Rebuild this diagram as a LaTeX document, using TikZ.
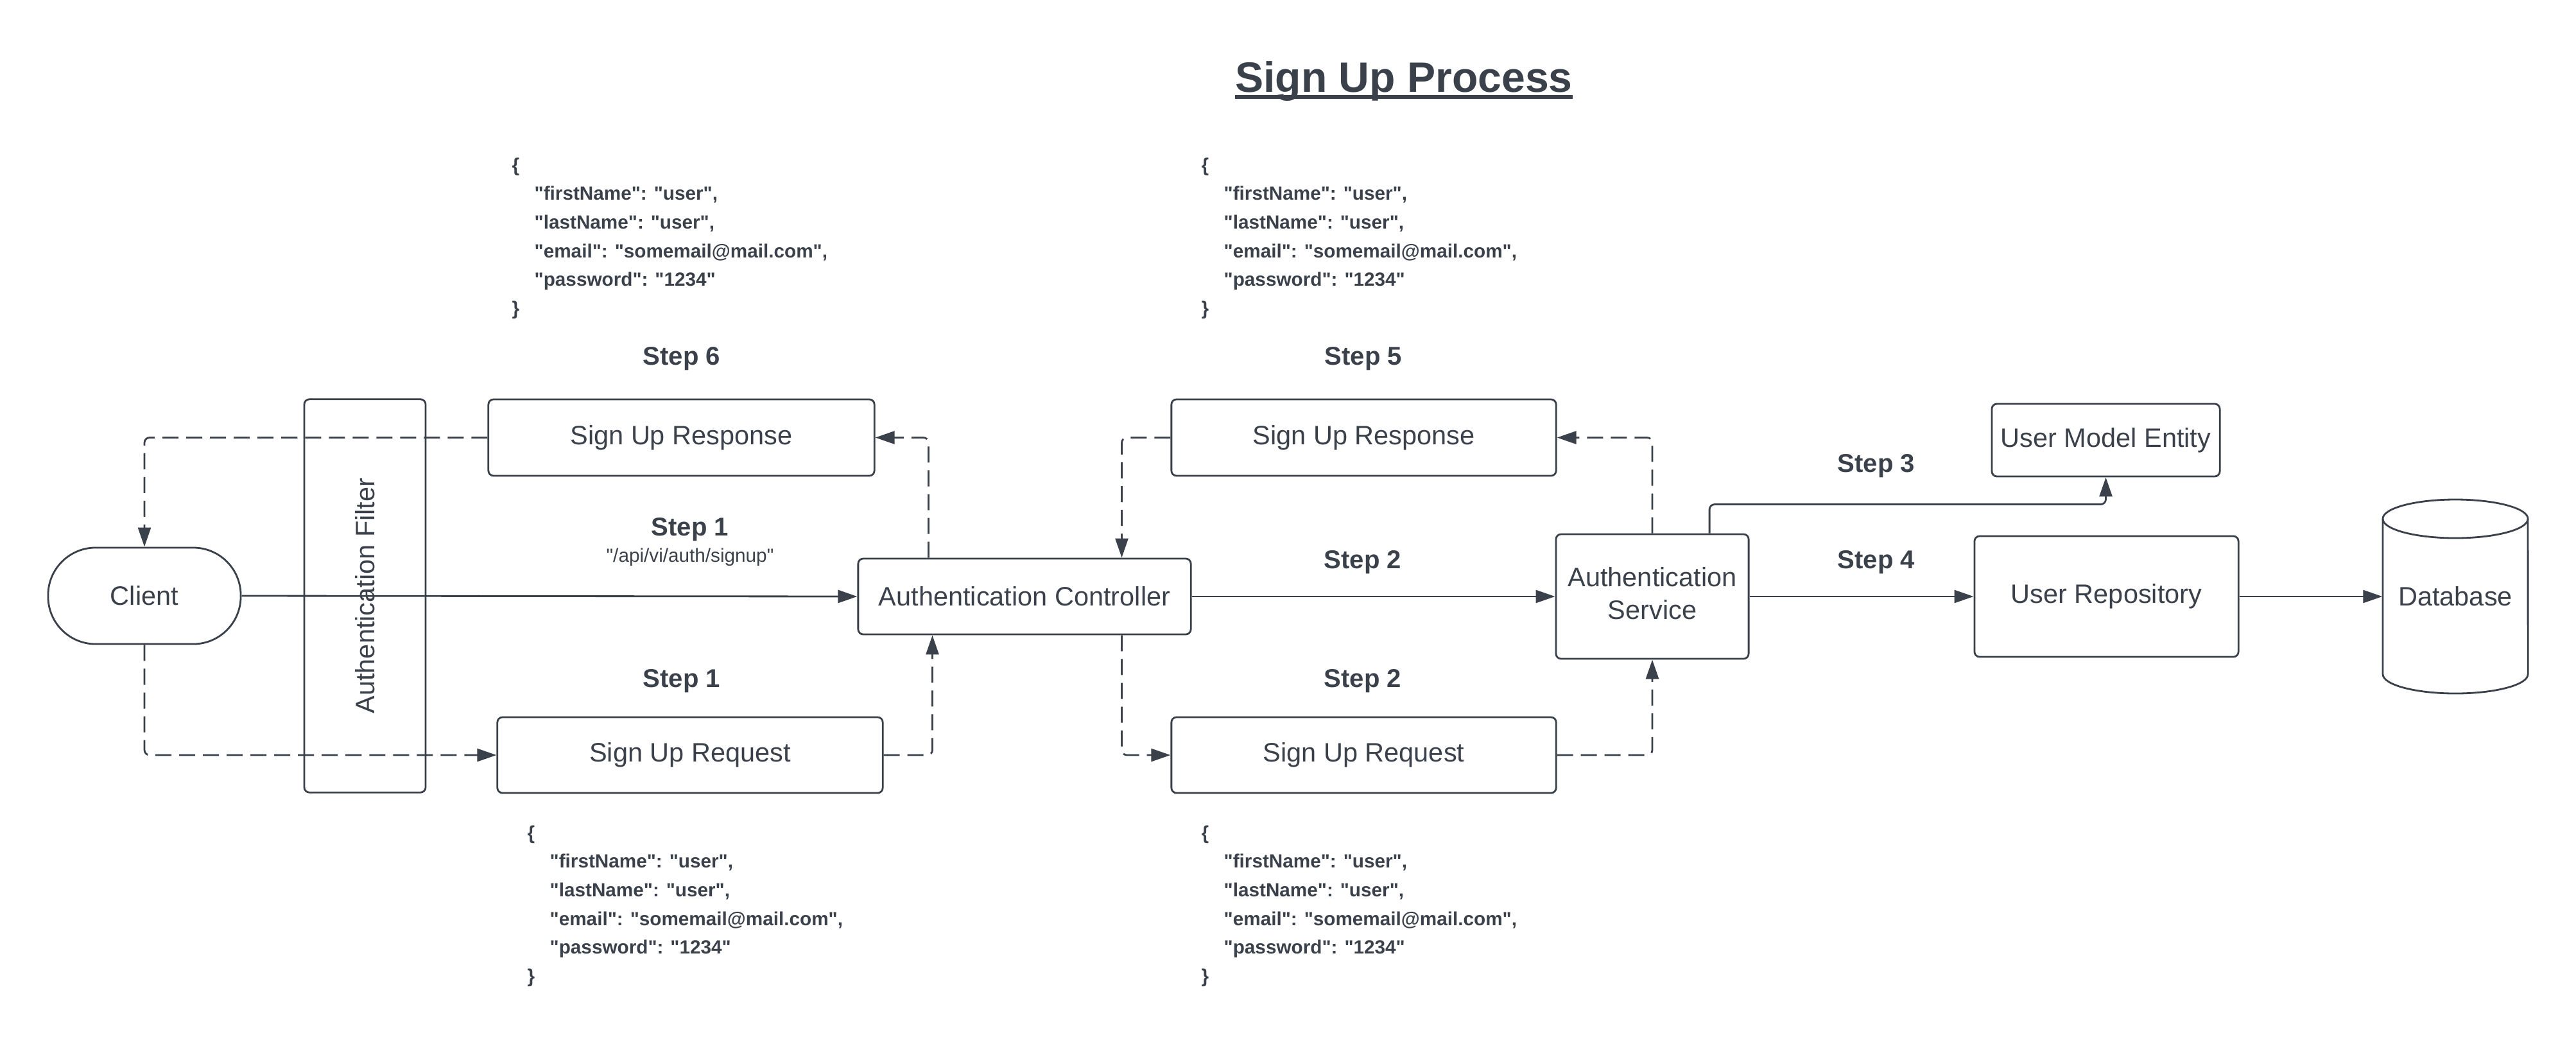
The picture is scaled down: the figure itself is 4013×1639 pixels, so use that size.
\documentclass[tikz,border=0pt]{standalone}
\usepackage{fontspec}
\setmainfont[Ligatures=TeXOff]{Liberation Sans}
\usetikzlibrary{arrows.meta,calc}
\definecolor{ink}{RGB}{58,65,74}
\newcommand{\jsonblk}[3]{%
  \node[json] (#1a) at (#2,#3) {\{};
  \node[json] (#1b) at ({#2+35},{#3+44.7}) {"firstName": "user",};
  \node[json] (#1c) at ({#2+35},{#3+89.4}) {"lastName": "user",};
  \node[json] (#1d) at ({#2+35},{#3+134.1}) {"email": "somemail@mail.com",};
  \node[json] (#1e) at ({#2+35},{#3+178.8}) {"password": "1234"};
  \node[json] (#1f) at (#2,{#3+223.5}) {\}};
}
\begin{document}
\begin{tikzpicture}[x=0.01cm,y=-0.01cm,
  every node/.style={text=ink},
  box/.style={draw=ink, line width=0.8pt, rounded corners=0.08cm, inner sep=0pt,
    font=\fontsize{11.8pt}{14.5pt}\selectfont, align=center},
  boxtext/.style={inner sep=0pt, font=\fontsize{11.8pt}{14.5pt}\selectfont, align=center},
  steplbl/.style={inner sep=0pt, font=\bfseries\fontsize{11.4pt}{13pt}\selectfont},
  json/.style={anchor=west, inner sep=0pt, text height=0.72em, text depth=0.2em,
    font=\bfseries\fontsize{8.45pt}{10pt}\selectfont},
  conn/.style={draw=ink, line width=0.8pt, rounded corners=0.08cm,
    -{Triangle[length=0.3cm,width=0.2cm]}},
  dconn/.style={conn, dash pattern=on 0.25cm off 0.12cm},
]
\useasboundingbox (0,0) rectangle (4013,1639);

% title
\node[inner sep=0pt, anchor=base, font=\bfseries\fontsize{18.8pt}{22pt}\selectfont] (title) at (2187,143) {Sign Up Process};
\draw[ink, line width=1.6pt] ([yshift=-0.08cm]title.base west) -- ([yshift=-0.08cm]title.base east);

% nodes
\node[box, rounded corners=0.74cm, minimum width=3.0cm, minimum height=1.5cm] (client) at (225,928) {Client};
\node[box, rotate=90, minimum width=6.12cm, minimum height=1.89cm] (filter) at (568.5,928) {Authentication Filter};
\node[box, minimum width=6.01cm, minimum height=1.19cm] (resp1) at (1061.5,681.5) {Sign Up Response};
\node[box, minimum width=6.00cm, minimum height=1.18cm] (req1) at (1075,1176) {Sign Up Request};
\node[box, minimum width=5.18cm, minimum height=1.18cm] (ctrl) at (1596,929) {Authentication Controller};
\node[box, minimum width=5.99cm, minimum height=1.19cm] (resp2) at (2124.5,681.5) {Sign Up Response};
\node[box, minimum width=5.99cm, minimum height=1.18cm] (req2) at (2124.5,1176) {Sign Up Request};
\node[box, minimum width=3.00cm, minimum height=1.94cm] (svc) at (2574,929) {};
\node[boxtext] (svclbl) at ([yshift=0.05cm]svc.center) {Authentication\\Service};
\node[box, minimum width=3.55cm, minimum height=1.13cm] (ume) at (3280.5,685.5) {User Model Entity};
\node[box, minimum width=4.11cm, minimum height=1.88cm] (repo) at (3281.5,929) {User Repository};

% database cylinder
\draw[ink, line width=0.8pt] (3712,808) -- (3712,1050) arc[start angle=180, end angle=360, x radius=1.13cm, y radius=0.3cm] -- (3938,808);
\draw[ink, line width=0.8pt] (3825,808) ellipse[x radius=1.13cm, y radius=0.3cm];
\node[boxtext, minimum width=2.26cm, minimum height=2.4cm] (db) at (3825,929) {Database};

% step labels
\node[steplbl] (s6) at (1062,559) {Step 6};
\node[steplbl] (s1a) at (1075,825) {Step 1};
\node[inner sep=0pt, font=\fontsize{8.45pt}{10pt}\selectfont] (api) at (1075,868) {"/api/vi/auth/signup"};
\node[steplbl] (s1b) at (1062,1061) {Step 1};
\node[steplbl] (s5) at (2124,559) {Step 5};
\node[steplbl] (s2a) at (2123,876) {Step 2};
\node[steplbl] (s2b) at (2123,1061) {Step 2};
\node[steplbl] (s3) at (2923,726) {Step 3};
\node[steplbl] (s4) at (2923,876) {Step 4};

% json blocks
\jsonblk{jtl}{797}{258}
\jsonblk{jtr}{1871}{258}
\jsonblk{jbl}{821}{1298}
\jsonblk{jbr}{1871}{1298}

% connectors
\draw[conn] (client.east) -- (ctrl.west);
\draw[dconn] (resp1.west) -| (client.north);
\draw[dconn] (client.south) |- (req1.west);
\draw[dconn] (req1.east) -| ([xshift=1.17cm]ctrl.south west);
\draw[dconn] ([xshift=1.11cm]ctrl.north west) |- (resp1.east);
\draw[dconn] (resp2.west) -| ([xshift=-1.09cm]ctrl.north east);
\draw[dconn] ([xshift=-1.09cm]ctrl.south east) |- (req2.west);
\draw[conn] (ctrl.east) -- (svc.west);
\draw[dconn] (req2.east) -| (svc.south);
\draw[dconn] (svc.north) |- (resp2.east);
\coordinate (svctop) at ([xshift=0.89cm]svc.north);
\draw[conn] (svctop) -- ++(0,-45) -| (ume.south);
\draw[conn] (svc.east) -- (repo.west);
\draw[conn] (repo.east) -- (db.west);
\end{tikzpicture}
\end{document}
